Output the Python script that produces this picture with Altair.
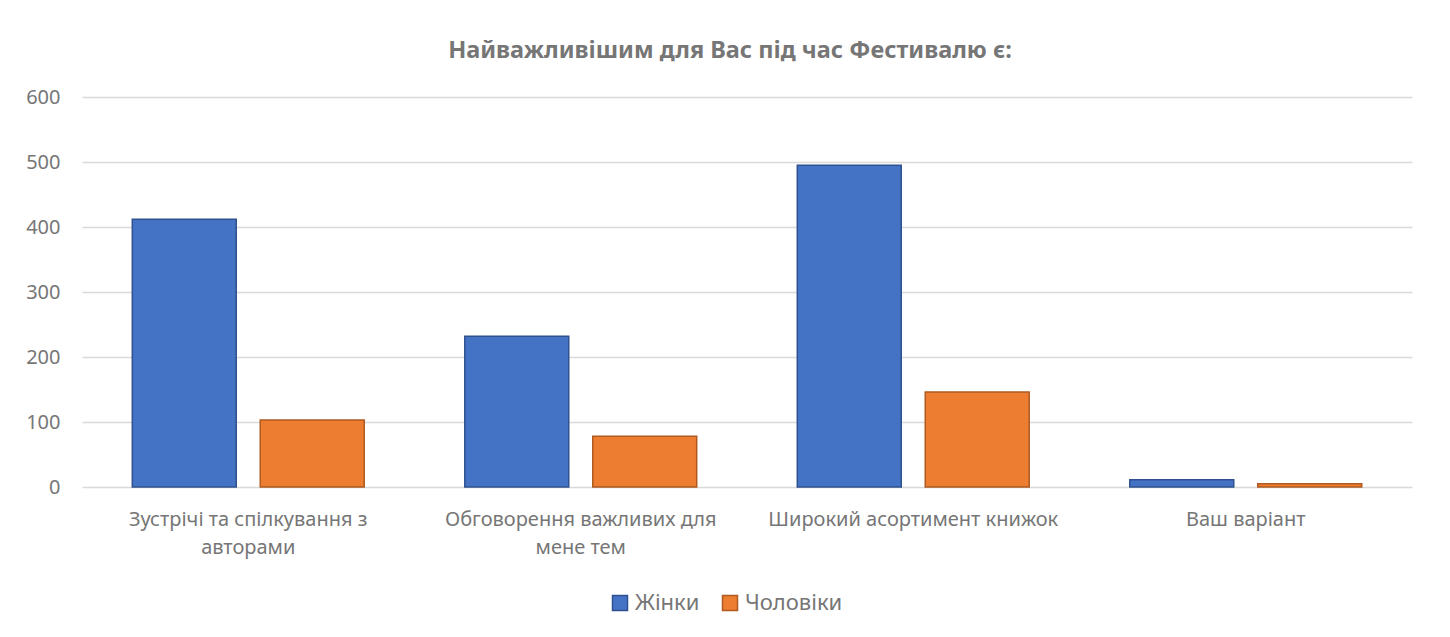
import altair as alt
import pandas as pd

categories = [
    "Зустрічі та спілкування з авторами",
    "Обговорення важливих для мене тем",
    "Широкий асортимент книжок",
    "Ваш варіант",
]
label_lines = [
    ["Зустрічі та спілкування з", "авторами"],
    ["Обговорення важливих для", "мене тем"],
    ["Широкий асортимент книжок"],
    ["Ваш варіант"],
]
series = ["Жінки", "Чоловіки"]
women = [412, 232, 495, 11]
men = [103, 78, 146, 5]
colors = ["#4472C4", "#ED7D31"]
strokes = ["#2F528F", "#AE5A21"]

rows = []
for c, w, m in zip(categories, women, men):
    rows.append({"cat": c, "sex": series[0], "val": w})
    rows.append({"cat": c, "sex": series[1], "val": m})
df = pd.DataFrame(rows)

expr_parts = []
for c, lines in zip(categories, label_lines):
    arr = "[" + ",".join("'" + l + "'" for l in lines) + "]"
    expr_parts.append(f"datum.label == '{c}' ? {arr} : ")
label_expr = "".join(expr_parts) + "datum.label"

FONT = "Noto Sans"
GREY = "#767676"

chart = (
    alt.Chart(df)
    .mark_bar(strokeWidth=1.5)
    .encode(
        x=alt.X(
            "cat:N",
            sort=categories,
            title=None,
            scale=alt.Scale(paddingInner=0, paddingOuter=0),
            axis=alt.Axis(
                labelExpr=label_expr,
                labelAngle=0,
                labelFontSize=20,
                labelColor=GREY,
                labelFont=FONT,
                labelPadding=22,
                labelLineHeight=28,
                domain=False,
                ticks=False,
                grid=False,
                labelLimit=400,
            ),
        ),
        xOffset=alt.XOffset(
            "sex:N",
            sort=series,
            scale=alt.Scale(paddingInner=0.1875, paddingOuter=0.393),
        ),
        y=alt.Y(
            "val:Q",
            title=None,
            scale=alt.Scale(domain=[0, 600]),
            axis=alt.Axis(
                values=[0, 100, 200, 300, 400, 500, 600],
                labelFontSize=20,
                labelColor=GREY,
                labelFont=FONT,
                labelPadding=22,
                domain=False,
                ticks=False,
                gridColor="#d9d9d9",
                gridWidth=1.5,
            ),
        ),
        color=alt.Color(
            "sex:N",
            sort=series,
            scale=alt.Scale(domain=series, range=colors),
            legend=alt.Legend(
                title=None,
                orient="none",
                direction="horizontal",
                legendX=527,
                legendY=495,
                symbolType="square",
                symbolSize=225,
                symbolStrokeWidth=1.5,
                labelFontSize=22,
                labelColor=GREY,
                labelFont=FONT,
                columnPadding=19,
                labelOffset=4,
            ),
        ),
        stroke=alt.Stroke(
            "sex:N",
            sort=series,
            scale=alt.Scale(domain=series, range=strokes),
            legend=None,
        ),
    )
    .properties(
        width=1330,
        height=390,
        background="white",
        title=alt.TitleParams(
            "Найважливішим для Вас під час Фестивалю є:",
            fontSize=23.5,
            font=FONT,
            fontWeight="bold",
            color=GREY,
            anchor="middle",
            offset=25,
            dx=-17,
        ),
        autosize=alt.AutoSizeParams(type="none"),
        padding={"left": 74, "top": 89, "right": 30, "bottom": 140},
    )
    .configure_view(stroke=None, strokeWidth=0)
)

chart.save("out.html", embed_options={"renderer": "svg", "actions": False})
